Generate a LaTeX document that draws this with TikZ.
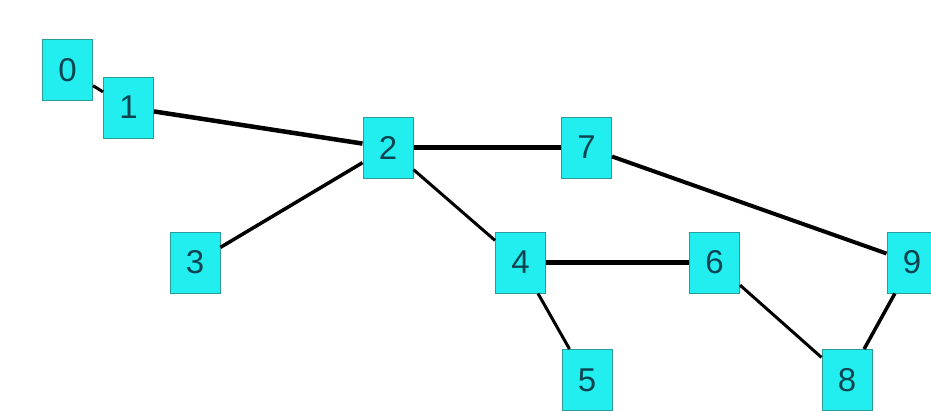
\documentclass[tikz,border=0pt]{standalone}
\usepackage{fontspec}
\setmainfont{Liberation Sans}
\definecolor{boxfill}{HTML}{22EEF0}
\definecolor{boxline}{HTML}{2A9C9C}
\definecolor{digit}{HTML}{0B4450}
\begin{document}
\begin{tikzpicture}[x=1pt,y=-1pt,
  vbox/.style={draw=boxline,line width=1pt,fill=boxfill,minimum width=50pt,minimum height=61pt,inner sep=0pt,font=\fontsize{33}{33}\selectfont,text=digit},
  edge/.style={line width=#1,black}]
\clip (0,0) rectangle (931,410);
\node[vbox] (n0) at (67.5,70) {0};
\node[vbox] (n1) at (128.5,107.5) {1};
\node[vbox] (n2) at (388,147.5) {2};
\node[vbox] (n7) at (586.5,147.5) {7};
\node[vbox] (n3) at (195,262.5) {3};
\node[vbox] (n4) at (520.5,262.5) {4};
\node[vbox] (n6) at (714.5,262.5) {6};
\node[vbox] (n9) at (912,262.5) {9};
\node[vbox] (n5) at (587,380) {5};
\node[vbox] (n8) at (847,380) {8};
\draw[edge=3pt] (n0) -- (n1);
\draw[edge=4.5pt] (n1) -- (n2);
\draw[edge=5.5pt] (n2) -- (n7);
\draw[edge=3.5pt] (n2) -- (n3);
\draw[edge=3pt] (n2) -- (n4);
\draw[edge=4pt] (n7) -- (n9);
\draw[edge=4.5pt] (n4) -- (n6);
\draw[edge=3pt] (n4) -- (n5);
\draw[edge=3pt] (n6) -- (n8);
\draw[edge=3.5pt] (n9) -- (n8);
\end{tikzpicture}
\end{document}
